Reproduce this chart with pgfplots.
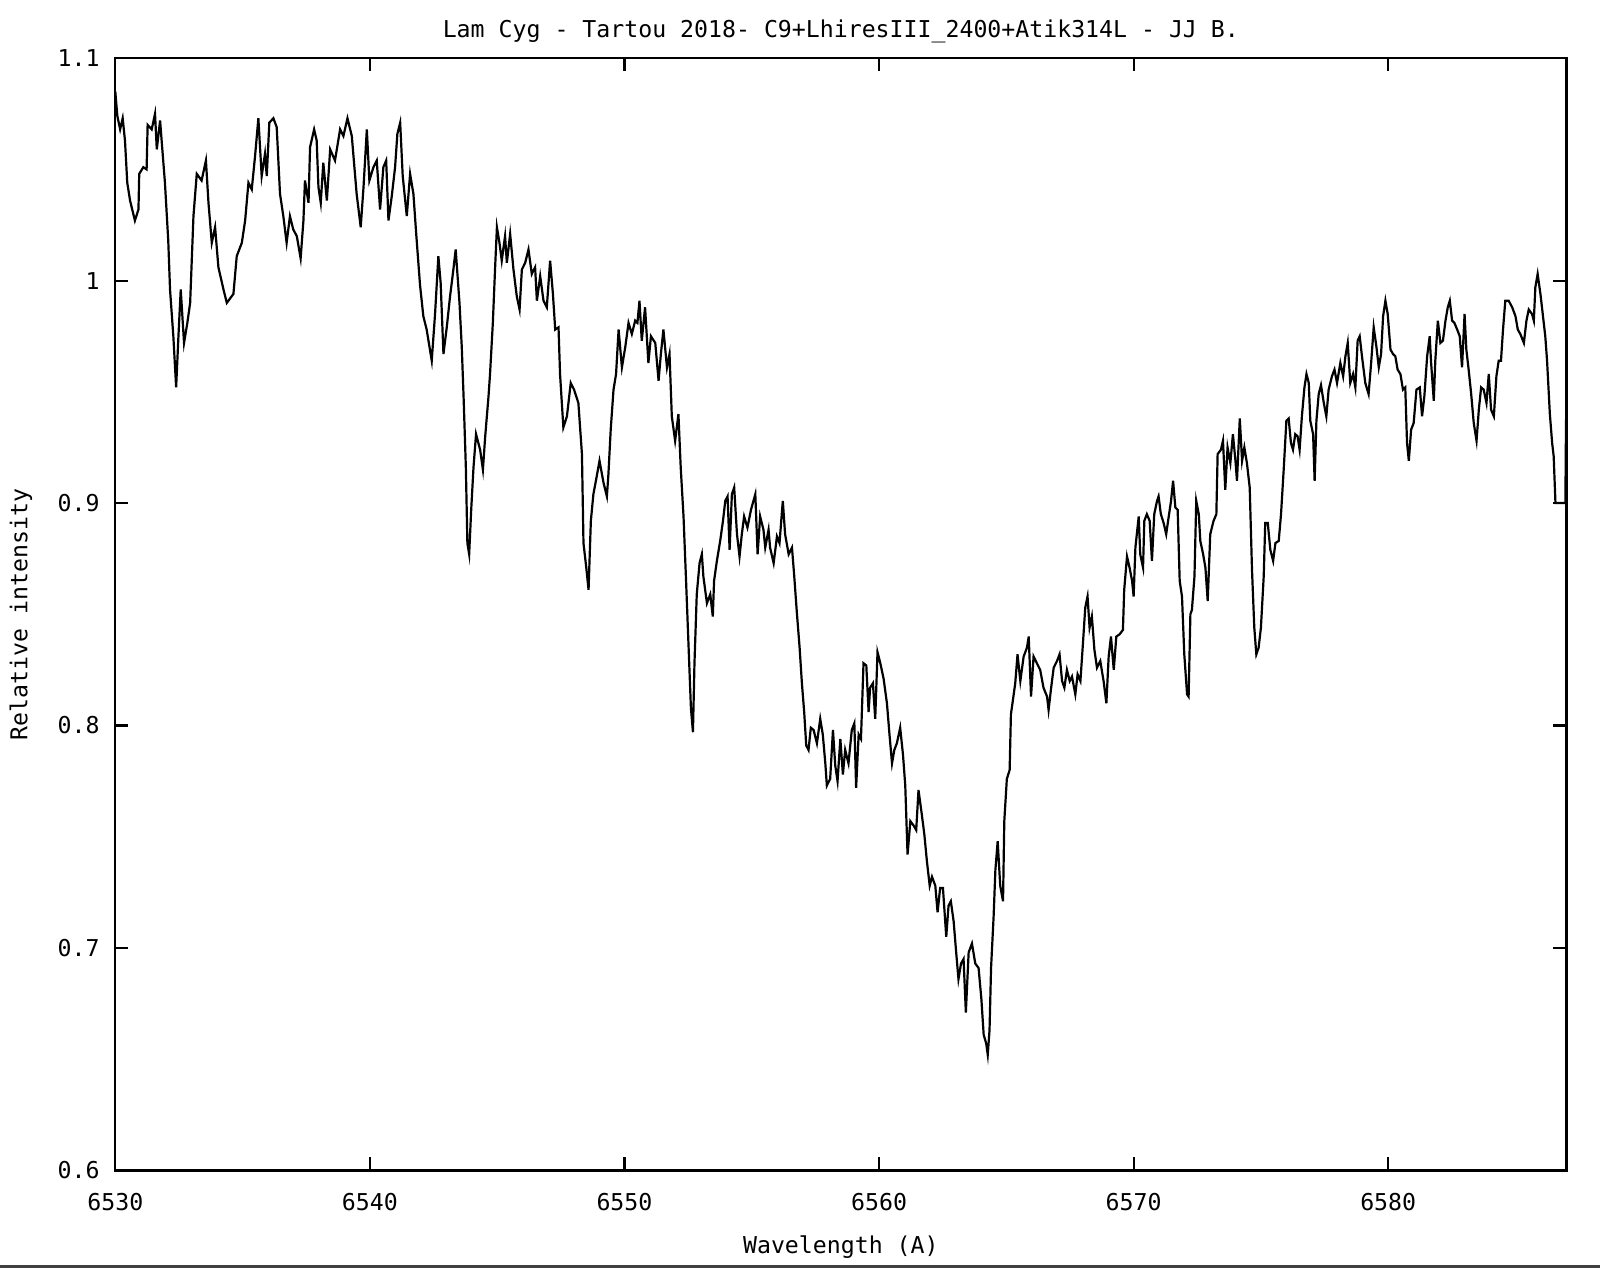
\documentclass[border=0pt]{standalone}
\usepackage{fontspec}
\setmainfont{DejaVu Sans Mono}
\usepackage{pgfplots}
\pgfplotsset{compat=1.18}
\begin{document}
\fontsize{11.6}{14}\selectfont
\begin{tikzpicture}
\useasboundingbox (-57.65pt,-48.8pt) rectangle (742.35pt,585.2pt);
\begin{axis}[
  scale only axis, width=725.55pt, height=556.1pt,
  at={(0,0)}, anchor=south west,
  xmin=6530, xmax=6587, ymin=0.6, ymax=1.1,
  xtick={6530,6540,6550,6560,6570,6580},
  ytick={0.6,0.7,0.8,0.9,1,1.1},
  yticklabels={0.6,0.7,0.8,0.9,1,1.1},
  xticklabels={6530,6540,6550,6560,6570,6580},
  tick align=inside, major tick length=6.5pt, minor tick num=0,
  axis line style={line width=1.1pt},
  every tick/.style={black, line width=1.1pt},
  scaled ticks=false,
  xticklabel style={anchor=center, yshift=-15.65pt},
  yticklabel style={anchor=east, inner sep=0pt, xshift=-7.65pt},
  title={Lam Cyg - Tartou 2018- C9+LhiresIII\_2400+Atik314L - JJ B.},
  every axis title/.style={at={(axis description cs:0.5,1.0245)}, anchor=center},
  xlabel={Wavelength (A)},
  xlabel style={at={(axis description cs:0.5,-0.0687)}, anchor=center},
  ylabel={Relative intensity},
  ylabel style={at={(axis description cs:-0.0650,0.5)}, anchor=center},
  clip=true,
]
\addplot[black, line width=1.1pt, line join=miter] table {
6530.00 1.085
6530.08 1.074
6530.19 1.068
6530.29 1.073
6530.38 1.063
6530.47 1.044
6530.58 1.036
6530.77 1.027
6530.91 1.032
6530.94 1.048
6531.10 1.051
6531.23 1.050
6531.27 1.070
6531.43 1.068
6531.56 1.075
6531.63 1.059
6531.76 1.072
6531.82 1.063
6531.95 1.044
6532.08 1.018
6532.15 0.996
6532.28 0.975
6532.39 0.952
6532.48 0.975
6532.57 0.996
6532.70 0.972
6532.83 0.981
6532.94 0.990
6533.07 1.029
6533.20 1.048
6533.39 1.045
6533.56 1.054
6533.66 1.035
6533.79 1.017
6533.92 1.024
6534.05 1.006
6534.25 0.996
6534.38 0.990
6534.64 0.994
6534.77 1.011
6534.97 1.017
6535.10 1.027
6535.23 1.044
6535.36 1.041
6535.49 1.056
6535.62 1.073
6535.75 1.047
6535.88 1.057
6535.95 1.047
6536.05 1.071
6536.21 1.073
6536.34 1.069
6536.47 1.039
6536.60 1.029
6536.73 1.017
6536.86 1.029
6536.99 1.023
6537.13 1.020
6537.28 1.010
6537.39 1.027
6537.45 1.045
6537.59 1.035
6537.65 1.060
6537.81 1.068
6537.91 1.063
6537.98 1.042
6538.07 1.035
6538.17 1.053
6538.31 1.036
6538.44 1.059
6538.63 1.054
6538.83 1.068
6538.96 1.065
6539.12 1.073
6539.29 1.065
6539.48 1.039
6539.64 1.024
6539.75 1.042
6539.88 1.068
6539.98 1.045
6540.14 1.051
6540.27 1.054
6540.40 1.032
6540.53 1.051
6540.64 1.054
6540.73 1.027
6540.86 1.038
6540.99 1.051
6541.08 1.066
6541.19 1.071
6541.29 1.047
6541.45 1.029
6541.58 1.048
6541.71 1.039
6541.82 1.021
6541.97 0.998
6542.10 0.984
6542.23 0.978
6542.43 0.964
6542.56 0.985
6542.69 1.011
6542.78 0.999
6542.89 0.967
6543.02 0.979
6543.15 0.993
6543.28 1.005
6543.37 1.014
6543.52 0.990
6543.61 0.970
6543.68 0.948
6543.77 0.916
6543.83 0.882
6543.90 0.877
6543.98 0.897
6544.07 0.916
6544.17 0.931
6544.33 0.924
6544.44 0.915
6544.53 0.930
6544.66 0.948
6544.72 0.958
6544.83 0.981
6544.92 1.006
6544.99 1.024
6545.09 1.017
6545.18 1.009
6545.31 1.020
6545.38 1.008
6545.51 1.021
6545.64 1.005
6545.77 0.993
6545.88 0.987
6545.97 1.005
6546.10 1.008
6546.23 1.014
6546.36 1.003
6546.49 1.006
6546.56 0.991
6546.69 1.002
6546.82 0.991
6546.95 0.988
6547.08 1.009
6547.19 0.994
6547.28 0.978
6547.41 0.979
6547.47 0.958
6547.60 0.934
6547.74 0.939
6547.89 0.954
6548.02 0.951
6548.19 0.945
6548.33 0.922
6548.39 0.882
6548.50 0.871
6548.59 0.861
6548.68 0.892
6548.78 0.904
6548.91 0.912
6549.02 0.919
6549.18 0.909
6549.31 0.903
6549.37 0.913
6549.46 0.933
6549.57 0.951
6549.67 0.958
6549.77 0.978
6549.90 0.961
6550.03 0.970
6550.16 0.981
6550.29 0.976
6550.42 0.982
6550.51 0.981
6550.59 0.991
6550.68 0.973
6550.81 0.988
6550.94 0.963
6551.04 0.975
6551.21 0.972
6551.34 0.955
6551.43 0.967
6551.53 0.978
6551.67 0.961
6551.77 0.967
6551.86 0.939
6551.99 0.928
6552.12 0.940
6552.21 0.916
6552.32 0.894
6552.42 0.865
6552.52 0.835
6552.61 0.808
6552.69 0.797
6552.75 0.828
6552.84 0.859
6552.95 0.873
6553.04 0.877
6553.10 0.867
6553.24 0.855
6553.37 0.859
6553.47 0.849
6553.52 0.865
6553.63 0.874
6553.76 0.883
6553.87 0.892
6553.96 0.901
6554.05 0.903
6554.13 0.879
6554.22 0.904
6554.31 0.907
6554.42 0.886
6554.52 0.876
6554.61 0.886
6554.70 0.894
6554.83 0.889
6554.97 0.897
6555.14 0.904
6555.23 0.877
6555.33 0.894
6555.46 0.888
6555.53 0.880
6555.66 0.888
6555.72 0.880
6555.86 0.873
6555.99 0.885
6556.09 0.882
6556.22 0.901
6556.31 0.886
6556.45 0.877
6556.58 0.880
6556.67 0.867
6556.77 0.851
6556.88 0.835
6556.97 0.819
6557.06 0.806
6557.14 0.791
6557.23 0.789
6557.32 0.799
6557.43 0.798
6557.56 0.792
6557.69 0.803
6557.79 0.796
6557.89 0.783
6557.95 0.773
6558.08 0.776
6558.19 0.798
6558.28 0.782
6558.37 0.775
6558.48 0.794
6558.58 0.778
6558.67 0.789
6558.80 0.783
6558.93 0.798
6559.03 0.801
6559.10 0.772
6559.20 0.796
6559.29 0.794
6559.39 0.828
6559.50 0.827
6559.59 0.806
6559.65 0.817
6559.76 0.819
6559.85 0.803
6559.94 0.833
6560.05 0.828
6560.18 0.821
6560.31 0.810
6560.41 0.796
6560.51 0.783
6560.60 0.789
6560.70 0.792
6560.83 0.799
6560.94 0.787
6561.03 0.773
6561.12 0.742
6561.23 0.757
6561.36 0.755
6561.46 0.753
6561.55 0.771
6561.68 0.760
6561.78 0.751
6561.88 0.739
6561.99 0.728
6562.08 0.732
6562.21 0.728
6562.30 0.716
6562.40 0.727
6562.51 0.727
6562.64 0.705
6562.73 0.719
6562.82 0.721
6562.93 0.712
6563.03 0.698
6563.12 0.686
6563.22 0.693
6563.32 0.695
6563.41 0.671
6563.52 0.698
6563.65 0.702
6563.78 0.693
6563.91 0.691
6564.02 0.677
6564.11 0.661
6564.21 0.657
6564.27 0.652
6564.34 0.663
6564.40 0.691
6564.50 0.714
6564.57 0.735
6564.66 0.748
6564.76 0.728
6564.87 0.721
6564.92 0.757
6565.02 0.776
6565.13 0.780
6565.18 0.805
6565.35 0.819
6565.44 0.832
6565.55 0.820
6565.68 0.831
6565.81 0.835
6565.88 0.840
6565.97 0.813
6566.07 0.831
6566.20 0.828
6566.33 0.825
6566.46 0.817
6566.60 0.813
6566.66 0.807
6566.75 0.816
6566.86 0.826
6566.99 0.829
6567.09 0.832
6567.19 0.820
6567.28 0.817
6567.38 0.825
6567.49 0.820
6567.58 0.822
6567.71 0.814
6567.80 0.823
6567.91 0.820
6568.01 0.837
6568.10 0.853
6568.19 0.858
6568.27 0.844
6568.36 0.849
6568.46 0.834
6568.56 0.826
6568.69 0.829
6568.82 0.820
6568.93 0.810
6569.02 0.831
6569.11 0.840
6569.22 0.825
6569.32 0.840
6569.45 0.841
6569.58 0.843
6569.63 0.861
6569.74 0.876
6569.84 0.871
6569.94 0.865
6570.00 0.858
6570.07 0.880
6570.20 0.894
6570.26 0.877
6570.37 0.871
6570.42 0.892
6570.52 0.895
6570.63 0.892
6570.72 0.874
6570.81 0.895
6570.92 0.901
6570.98 0.903
6571.07 0.895
6571.18 0.891
6571.28 0.886
6571.38 0.894
6571.47 0.901
6571.55 0.910
6571.64 0.898
6571.73 0.897
6571.81 0.865
6571.90 0.858
6571.99 0.832
6572.10 0.814
6572.16 0.813
6572.23 0.850
6572.29 0.852
6572.39 0.867
6572.46 0.901
6572.56 0.895
6572.62 0.883
6572.73 0.877
6572.82 0.871
6572.91 0.856
6573.01 0.886
6573.14 0.892
6573.25 0.895
6573.30 0.922
6573.43 0.924
6573.51 0.928
6573.60 0.906
6573.69 0.925
6573.80 0.918
6573.90 0.931
6574.00 0.919
6574.06 0.910
6574.17 0.938
6574.26 0.919
6574.35 0.925
6574.45 0.918
6574.56 0.907
6574.65 0.870
6574.74 0.844
6574.82 0.832
6574.91 0.835
6575.00 0.844
6575.11 0.867
6575.17 0.891
6575.27 0.891
6575.37 0.879
6575.48 0.874
6575.57 0.882
6575.70 0.883
6575.79 0.895
6575.90 0.916
6576.00 0.937
6576.09 0.938
6576.18 0.927
6576.26 0.924
6576.35 0.931
6576.44 0.930
6576.52 0.924
6576.61 0.939
6576.71 0.952
6576.79 0.958
6576.88 0.954
6576.94 0.937
6577.05 0.931
6577.11 0.910
6577.18 0.937
6577.27 0.949
6577.36 0.953
6577.47 0.945
6577.57 0.939
6577.66 0.951
6577.79 0.957
6577.89 0.960
6577.99 0.954
6578.12 0.963
6578.23 0.957
6578.32 0.966
6578.41 0.972
6578.51 0.954
6578.62 0.958
6578.71 0.952
6578.80 0.973
6578.88 0.975
6578.97 0.966
6579.10 0.954
6579.23 0.949
6579.33 0.963
6579.43 0.979
6579.54 0.970
6579.63 0.961
6579.72 0.967
6579.80 0.984
6579.89 0.991
6579.98 0.985
6580.09 0.969
6580.19 0.967
6580.28 0.966
6580.37 0.960
6580.48 0.958
6580.58 0.951
6580.67 0.952
6580.74 0.927
6580.81 0.919
6580.90 0.933
6581.00 0.936
6581.11 0.951
6581.24 0.952
6581.33 0.939
6581.42 0.948
6581.53 0.966
6581.63 0.975
6581.68 0.964
6581.79 0.946
6581.85 0.964
6581.95 0.982
6582.05 0.972
6582.15 0.973
6582.25 0.982
6582.34 0.988
6582.42 0.991
6582.51 0.982
6582.60 0.981
6582.71 0.978
6582.81 0.975
6582.90 0.961
6583.00 0.985
6583.07 0.969
6583.16 0.960
6583.26 0.949
6583.36 0.936
6583.47 0.928
6583.56 0.942
6583.65 0.952
6583.75 0.951
6583.86 0.945
6583.95 0.958
6584.04 0.942
6584.15 0.939
6584.25 0.957
6584.34 0.964
6584.43 0.964
6584.51 0.978
6584.60 0.991
6584.73 0.991
6584.87 0.988
6585.00 0.984
6585.09 0.978
6585.19 0.976
6585.33 0.972
6585.43 0.982
6585.52 0.987
6585.65 0.985
6585.72 0.982
6585.78 0.997
6585.87 1.003
6585.98 0.994
6586.08 0.984
6586.17 0.975
6586.24 0.964
6586.35 0.940
6586.44 0.927
6586.50 0.921
6586.57 0.900
6586.96 0.900
6586.98 0.930
6587.00 0.950
};
\end{axis}
\draw[line width=1.5pt, black!75] (-57.65pt,-48.05pt) -- (742.35pt,-48.05pt);
\end{tikzpicture}
\end{document}
